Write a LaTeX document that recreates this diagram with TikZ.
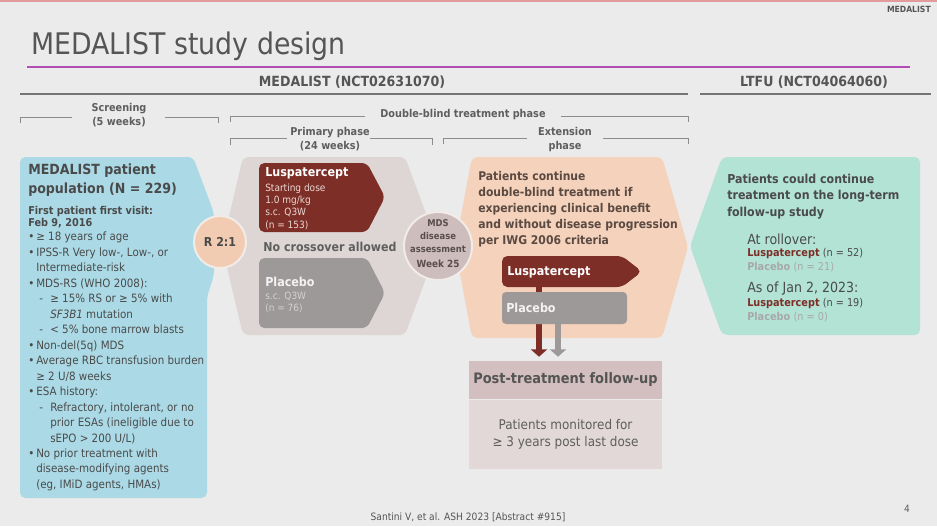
\documentclass[tikz,border=0pt]{standalone}
\usepackage{fontspec}
\setmainfont{DejaVu Sans}[FakeStretch=0.9]
\usetikzlibrary{positioning,arrows.meta}

\newcommand{\fsz}[2]{\fontsize{#1}{#2}\selectfont}
\newcommand{\bul}{\makebox[6pt][l]{•}}
\newcommand{\ind}{\hspace*{6pt}}
\newcommand{\subd}{\hspace*{8.25pt}\makebox[8.25pt][l]{-}}
\newcommand{\subind}{\hspace*{16.5pt}}

\definecolor{pagebg}{HTML}{EBEBEB}
\definecolor{topred}{HTML}{E39A9A}
\definecolor{titlegray}{HTML}{555555}
\definecolor{inkgray}{HTML}{4A4A4A}
\definecolor{lblgray}{HTML}{5E5E5E}
\definecolor{rulegray}{HTML}{757575}
\definecolor{brkgray}{HTML}{8C8C8C}
\definecolor{medpurple}{HTML}{B24DB5}
\definecolor{popblue}{HTML}{ABDAE6}
\definecolor{primpink}{HTML}{DED5D5}
\definecolor{randpeach}{HTML}{F2CCB2}
\definecolor{circedge}{HTML}{F2ECE8}
\definecolor{lusred}{HTML}{7D2E26}
\definecolor{lussub}{HTML}{EBD9D5}
\definecolor{plbgray}{HTML}{9D9999}
\definecolor{plbwhite}{HTML}{F4F2F2}
\definecolor{plbsub}{HTML}{D6D1D1}
\definecolor{mdsmauve}{HTML}{CDBDBD}
\definecolor{mdsink}{HTML}{5A4D4D}
\definecolor{extpeach}{HTML}{F4D2BB}
\definecolor{extink}{HTML}{5B4A42}
\definecolor{ltfugreen}{HTML}{B2E3D5}
\definecolor{posthdfill}{HTML}{D3BFBF}
\definecolor{postbdfill}{HTML}{E3D8D8}
\definecolor{lightplb}{HTML}{A8A8A8}

\tikzset{
	txt/.style={inner sep=0pt, text=inkgray},
	sechdr/.style={txt, text=titlegray, font=\bfseries\fsz{10.5}{12}},
	brklbl/.style={txt, text=lblgray, align=center, font=\bfseries\fsz{8.1}{10.5}},
	brkline/.style={draw=brkgray, line width=0.6pt},
	secline/.style={draw=rulegray, line width=1.2pt},
	phasebox/.style={rounded corners=4pt},
	armhdr/.style={txt, anchor=west, text=white, font=\bfseries\fsz{9.3}{11}},
	armsub/.style={txt, anchor=north west, align=left, font=\fsz{7.5}{9.2}},
	rcirc/.style={circle, fill=randpeach, draw=circedge, line width=1.5pt, minimum size=39pt, inner sep=0pt, text=inkgray, font=\bfseries\fsz{9.2}{11}},
	mdscirc/.style={circle, fill=mdsmauve, draw=circedge, line width=1.5pt, minimum size=51pt, inner sep=0pt},
	flow/.style={line width=4.5pt, -{Triangle[width=12pt,length=5.5pt]}, shorten >=3pt},
}

\begin{document}
\begin{tikzpicture}[x=0.75pt,y=-0.75pt]
	\useasboundingbox (0,0) rectangle (937,526);
	\fill[pagebg] (0,0) rectangle (937,526);
	\fill[topred] (0,0) rectangle (937,1.5);

	\node[txt, anchor=base east, text=titlegray, font=\bfseries\fsz{6.4}{8}] (tag) at (931,12) {MEDALIST};
	\node[txt, anchor=base west, text=titlegray, font=\fsz{22.3}{26}] (title) at (31,54) {MEDALIST study design};
	\draw[medpurple, line width=2.2pt] (27,67) -- (910,67);

	\node[sechdr] (medal) at (352,82) {MEDALIST (NCT02631070)};
	\node[sechdr] (ltfu) at (814,82) {LTFU (NCT04064060)};
	\draw[secline] (20,94) -- (688,94);
	\draw[secline] (700,94) -- (931,94);

	\node[brklbl] (scr) at (119,115) {Screening\\(5 weeks)};
	\draw[brkline] (20,123) -- (20,117) -- (72,117);
	\draw[brkline] (165,117) -- (218,117) -- (218,123);
	\node[brklbl] (dbt) at (463,115) {Double-blind treatment phase};
	\draw[brkline] (230,122) -- (230,116) -- (365,116);
	\draw[brkline] (561,116) -- (688,116) -- (688,122);
	\node[brklbl] (prim) at (330,139.5) {Primary phase\\(24 weeks)};
	\draw[brkline] (230,145) -- (230,138) -- (287,138);
	\draw[brkline] (370,138) -- (432,138) -- (432,145);
	\node[brklbl] (ext) at (565,139.5) {Extension\\phase};
	\draw[brkline] (443,144) -- (443,138) -- (527,138);
	\draw[brkline] (603,138) -- (688,138) -- (688,144);

	\fill[popblue, phasebox] (20,157) -- (193,157) -- (214,213) -- (214,275) -- (207,297) -- (207,498) -- (20,498) -- cycle;
	\node[txt, anchor=north west, align=left, font=\bfseries\fsz{10.5}{14.2}] (pophd) at (28,163.5) {MEDALIST patient\\population (N = 229)};
	\node[txt, anchor=north west, align=left, font=\bfseries\fsz{8.1}{8.8}] (fpfv) at (28,206) {First patient first visit:\\Feb 9, 2016};
	\node[txt, anchor=north west, align=left, font=\fsz{8.6}{11.6}] (crit) at (28,232) {%
		\bul ≥ 18 years of age\\
		\bul IPSS-R Very low-, Low-, or\\
		\ind Intermediate-risk\\
		\bul MDS-RS (WHO 2008):\\
		\subd ≥ 15\% RS or ≥ 5\% with\\
		\subind \textit{SF3B1} mutation\\
		\subd < 5\% bone marrow blasts\\
		\bul Non-del(5q) MDS\\
		\bul Average RBC transfusion burden\\
		\ind ≥ 2 U/8 weeks\\
		\bul ESA history:\\
		\subd Refractory, intolerant, or no\\
		\subind prior ESAs (ineligible due to\\
		\subind sEPO > 200 U/L)\\
		\bul No prior treatment with\\
		\ind disease-modifying agents\\
		\ind (eg, IMiD agents, HMAs)};

	\fill[primpink, phasebox] (243,157) -- (405,157) -- (438,246) -- (405,335) -- (243,335) -- (222,246) -- cycle;
	\fill[lusred, phasebox] (259,163) -- (367,163) -- (385,197) -- (367,232) -- (259,232) -- cycle;
	\node[armhdr] (luslbl) at (265,173) {Luspatercept};
	\node[armsub, text=lussub] (lusdose) at (265,183.5) {Starting dose\\1.0 mg/kg\\s.c. Q3W\\(n = 153)};
	\node[txt, text=lblgray, font=\bfseries\fsz{9.2}{11}] (nocross) at (330,247) {No crossover allowed};
	\fill[plbgray, phasebox] (259,258) -- (367,258) -- (385,293) -- (367,328) -- (259,328) -- cycle;
	\node[armhdr, text=plbwhite] (plblbl) at (265,282) {Placebo};
	\node[armsub, text=plbsub] (plbdose) at (265,291.5) {s.c. Q3W\\(n = 76)};

	\fill[extpeach, phasebox] (472,157) -- (662,157) -- (688,247) -- (662,338) -- (472,338) -- (455,247) -- cycle;
	\node[txt, anchor=north west, align=left, text=extink, font=\bfseries\fsz{9}{12}] (extxt) at (478,171.5) {Patients continue\\double-blind treatment if\\experiencing clinical benefit\\and without disease progression\\per IWG 2006 criteria};

	\fill[ltfugreen, phasebox] (722,157) -- (920,157) -- (920,335) -- (722,335) -- (690,246) -- cycle;
	\node[txt, anchor=north west, align=left, font=\bfseries\fsz{9.2}{12.4}] (ltfutxt) at (727,173.5) {Patients could continue\\treatment on the long-term\\follow-up study};
	\node[txt, anchor=west, font=\fsz{10.5}{12}] (roll) at (747,239) {At rollover:};
	\node[txt, anchor=west, font=\fsz{8.1}{10}] (roll1) at (747,254) {\textcolor{lusred}{\bfseries Luspatercept} (n = 52)};
	\node[txt, anchor=west, text=lightplb, font=\fsz{8.1}{10}] (roll2) at (747,267) {\bfseries Placebo \mdseries(n = 21)};
	\node[txt, anchor=west, font=\fsz{10.5}{12}] (asof) at (747,289) {As of Jan 2, 2023:};
	\node[txt, anchor=west, font=\fsz{8.1}{10}] (asof1) at (747,304) {\textcolor{lusred}{\bfseries Luspatercept} (n = 19)};
	\node[txt, anchor=west, text=lightplb, font=\fsz{8.1}{10}] (asof2) at (747,317) {\bfseries Placebo \mdseries(n = 0)};

	\node[rcirc] (rand) at (220,242) {R 2:1};
	\node[mdscirc] (mds) at (438,246) {};
	\node[txt, align=center, text=mdsink, font=\bfseries\fsz{7}{9.75}] (mdstxt) at (438,243.5) {MDS\\disease\\assessment\\[1.5pt]{\fsz{7.4}{9}Week 25}};

	\node[txt, minimum width=144.75pt, minimum height=28.5pt, fill=posthdfill, text=titlegray, font=\bfseries\fsz{10.8}{13}] (posthd) at (565.5,380) {Post-treatment follow-up};
	\node[txt, below=0pt of posthd, minimum width=144.75pt, minimum height=51.75pt, fill=postbdfill, align=center, text=lblgray, font=\fsz{10}{12.75}] (postbd) {Patients monitored for\\≥ 3 years post last dose};

	\fill[lusred, phasebox] (502,256) -- (622,256) -- (642,271.5) -- (622,287) -- (502,287) -- cycle;
	\node[armhdr] (lus2lbl) at (507,272) {Luspatercept};
	\coordinate (lusout) at (539,287);
	\coordinate (plbout) at (558,324);
	\draw[flow, lusred] (lusout) -- (lusout |- posthd.north);
	\draw[flow, plbgray] (plbout) -- (plbout |- posthd.north);
	\fill[plbgray, rounded corners=3pt] (502,292) rectangle (627,324);
	\node[armhdr, text=plbwhite] (plb2lbl) at (506,308) {Placebo};

	\node[txt, text=titlegray, font=\fsz{7.6}{9}] (cite) at (468,517) {Santini V, et al. ASH 2023 [Abstract \#915]};
	\node[txt, text=lblgray, font=\fsz{7.5}{9}] (pgno) at (907,509) {4};
\end{tikzpicture}
\end{document}
